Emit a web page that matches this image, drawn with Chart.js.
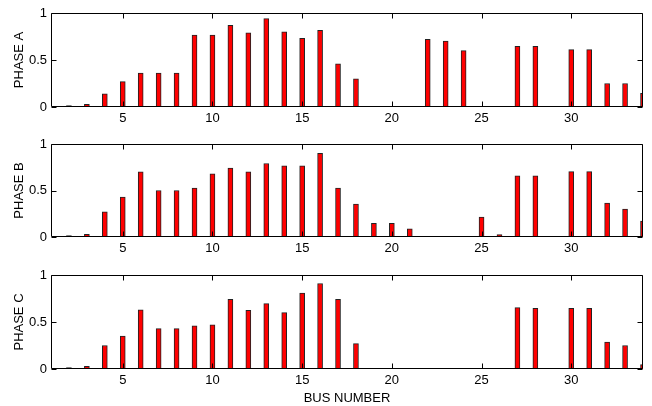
<!DOCTYPE html>
<html><head><meta charset="utf-8">
<script src="https://cdn.jsdelivr.net/npm/chart.js@4/dist/chart.umd.min.js"></script>
<style>
body{margin:0;background:#fff;width:652px;height:406px;overflow:hidden;position:relative}
canvas{position:absolute;left:0}
</style></head><body>
<canvas id="cA" width="652" height="130" style="top:0px"></canvas>
<canvas id="cB" width="652" height="130" style="top:130px"></canvas>
<canvas id="cC" width="652" height="146" style="top:260px"></canvas>
<script>
const busNumbers = [2,3,4,5,6,7,8,9,10,11,12,13,14,15,16,17,18,19,20,21,22,23,24,25,26,27,28,29,30,31,32,33,34];
const phaseA = [0.016,0.028,0.14,0.27,0.36,0.36,0.36,0.765,0.765,0.87,0.79,0.94,0.80,0.73,0.815,0.46,0.30,0,0,0,0.72,0.70,0.60,0,0,0.645,0.645,0,0.61,0.61,0.25,0.25,0.146];
const phaseB = [0.016,0.028,0.27,0.43,0.70,0.50,0.50,0.525,0.68,0.74,0.70,0.79,0.765,0.765,0.90,0.525,0.355,0.146,0.146,0.089,0,0,0,0.214,0.025,0.657,0.657,0,0.703,0.703,0.364,0.30,0.17];
const phaseC = [0.016,0.028,0.25,0.35,0.63,0.43,0.43,0.46,0.47,0.74,0.625,0.695,0.60,0.808,0.91,0.74,0.27,0,0,0,0,0,0,0,0,0.653,0.645,0,0.645,0.645,0.287,0.25,0.047];
const xTicks = [5,10,15,20,25,30];
const yTicks = [0,0.5,1];
const panelTitles = ['PHASE A','PHASE B','PHASE C'];
const xTitle = 'BUS NUMBER';

const FONT = "'Liberation Sans', Arial, Helvetica, sans-serif";

const boxTicks = {
  id:'boxTicks',
  afterDatasetsDraw(chart){
    const {ctx, chartArea:a, scales:{x,y}} = chart;
    const L = Math.round(a.left)+0.5, R = Math.round(a.right)-0.5, T = Math.round(a.top)+0.5, B = Math.round(a.bottom)-0.5;
    ctx.save();
    ctx.strokeStyle = '#000';
    ctx.lineWidth = 1;
    ctx.beginPath();
    ctx.rect(L, T, R-L, B-T);
    const len = 5;
    x.ticks.forEach(t=>{
      const px = Math.round(x.getPixelForValue(t.value))+0.5;
      ctx.moveTo(px,B); ctx.lineTo(px,B-len);
      ctx.moveTo(px,T); ctx.lineTo(px,T+len);
    });
    y.ticks.forEach(t=>{
      const py = Math.round(y.getPixelForValue(t.value))+0.5;
      ctx.moveTo(L,py); ctx.lineTo(L+len,py);
      ctx.moveTo(R,py); ctx.lineTo(R-len,py);
    });
    ctx.stroke();
    ctx.restore();
  }
};

function makeChart(id, values, title, padTop, xHeight, showXTitle){
  new Chart(document.getElementById(id), {
    type:'bar',
    data:{datasets:[{
      data: busNumbers.map((b,i)=>({x:b, y:values[i]})),
      backgroundColor:'#ff0000',
      borderColor:'#222',
      borderWidth:1,
      borderSkipped:'start',
      barThickness:5
    }]},
    options:{
      responsive:false,
      animation:false,
      events:[],
      layout:{padding:{top:padTop,right:9,left:0,bottom:0}},
      plugins:{legend:{display:false},tooltip:{enabled:false}},
      scales:{
        x:{
          type:'linear', min:1, max:34, offset:false,
          afterBuildTicks:s=>{ s.ticks = xTicks.map(v=>({value:v})); },
          afterFit:s=>{ s.height = xHeight; },
          grid:{display:false, drawTicks:false, offset:false},
          border:{display:false},
          ticks:{color:'#000', font:{family:FONT,size:13}, padding:4, maxRotation:0, autoSkip:false, callback:v=>String(v)},
          title:{display:showXTitle, text:xTitle, color:'#000', font:{family:FONT,size:13}, padding:{top:0,bottom:0}}
        },
        y:{
          min:0, max:1,
          afterBuildTicks:s=>{ s.ticks = yTicks.map(v=>({value:v})); },
          afterFit:s=>{ s.width = 51; },
          grid:{display:false, drawTicks:false},
          border:{display:false},
          ticks:{color:'#000', font:{family:FONT,size:13}, padding:4, callback:v=>String(v)},
          title:{display:true, text:title, color:'#000', font:{family:FONT,size:13}, padding:{top:12,bottom:0}}
        }
      }
    },
    plugins:[boxTicks]
  });
}

makeChart('cA', phaseA, panelTitles[0], 13, 23, false);
makeChart('cB', phaseB, panelTitles[1], 14, 23, false);
makeChart('cC', phaseC, panelTitles[2], 15, 37, true);
</script>
</body></html>
